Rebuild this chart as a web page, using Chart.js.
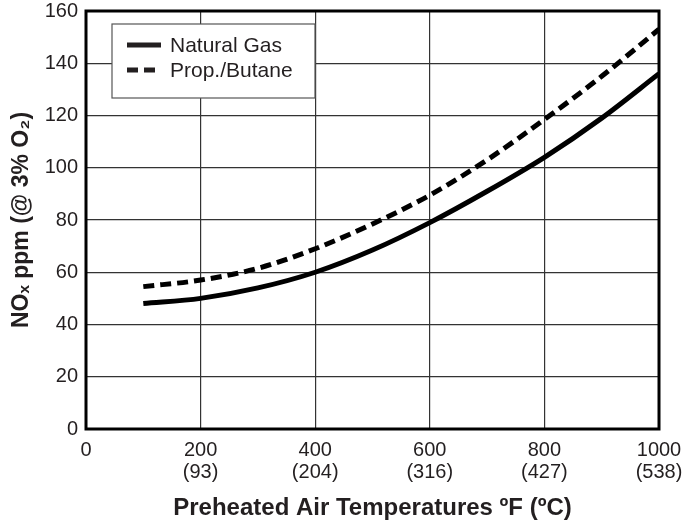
<!DOCTYPE html>
<html>
<head>
<meta charset="utf-8">
<script src="https://cdn.jsdelivr.net/npm/chart.js@4.4.1/dist/chart.umd.min.js"></script>
<style>
  html, body { margin: 0; padding: 0; background: #fff; }
  #wrap { width: 685px; height: 525px; }
</style>
</head>
<body>
<div id="wrap"><canvas id="grafico"></canvas></div>
<script>
// datos
const temperaturas = [100, 200, 300, 400, 500, 600, 700, 800, 900, 1000];
const gasNatural = [48, 50, 54, 60, 68.5, 79, 91, 104, 119, 136];
const propanoButano = [54.5, 57, 61.5, 69, 78.5, 89.5, 103, 118.5, 135, 153];

const ticksF = [0, 200, 400, 600, 800, 1000];
const ticksC = ['', '(93)', '(204)', '(316)', '(427)', '(538)'];
const nombres = ['Natural Gas', 'Prop./Butane'];

const fuente = "'Liberation Sans', Arial, sans-serif";
const tinta = '#231f20';

// borde completo y leyenda dentro del area
const marcoYLeyenda = {
    id: 'marcoYLeyenda',
    afterDatasetsDraw(chart) {
        const { ctx, chartArea: a } = chart;
        ctx.save();
        ctx.strokeStyle = '#000';
        ctx.lineWidth = 3;
        ctx.strokeRect(a.left, a.top, a.right - a.left, a.bottom - a.top);

        // caja de la leyenda
        const bx = 112, by = 24, bw = 203, bh = 74;
        ctx.fillStyle = '#fff';
        ctx.fillRect(bx, by, bw, bh);
        ctx.strokeStyle = '#555';
        ctx.lineWidth = 1.2;
        ctx.strokeRect(bx, by, bw, bh);

        ctx.strokeStyle = tinta;
        ctx.lineWidth = 5;
        ctx.setLineDash([]);
        ctx.beginPath(); ctx.moveTo(127, 45); ctx.lineTo(161, 45); ctx.stroke();
        ctx.setLineDash([11, 6]);
        ctx.beginPath(); ctx.moveTo(127, 70); ctx.lineTo(161, 70); ctx.stroke();
        ctx.setLineDash([]);

        ctx.fillStyle = tinta;
        ctx.font = '21px ' + fuente;
        ctx.textBaseline = 'middle';
        ctx.fillText(nombres[0], 170, 46);
        ctx.fillText(nombres[1], 170, 71);
        ctx.restore();
    }
};

const ctx = document.getElementById('grafico').getContext('2d');
new Chart(ctx, {
    type: 'line',
    data: {
        datasets: [{
            label: nombres[0],
            data: temperaturas.map((t, i) => ({ x: t, y: gasNatural[i] })),
            borderColor: '#000',
            borderWidth: 5,
            pointRadius: 0,
            cubicInterpolationMode: 'monotone',
            fill: false
        }, {
            label: nombres[1],
            data: temperaturas.map((t, i) => ({ x: t, y: propanoButano[i] })),
            borderColor: '#000',
            borderWidth: 5,
            borderDash: [11, 6],
            pointRadius: 0,
            cubicInterpolationMode: 'monotone',
            fill: false
        }]
    },
    options: {
        responsive: true,
        maintainAspectRatio: false,
        animation: false,
        layout: { padding: { top: 11, right: 26, left: 0, bottom: 0 } },
        plugins: {
            legend: { display: false },
            tooltip: { enabled: false }
        },
        scales: {
            x: {
                type: 'linear',
                min: 0,
                max: 1000,
                afterBuildTicks: (s) => { s.ticks = ticksF.map(v => ({ value: v })); },
                afterFit: (s) => { s.height = 96; s.paddingLeft = 0; s.paddingRight = 0; },
                ticks: {
                    color: tinta,
                    font: { family: fuente, size: 20, lineHeight: 1.1 },
                    padding: 10,
                    maxRotation: 0,
                    callback: (v) => {
                        const i = ticksF.indexOf(v);
                        return ticksC[i] ? [String(v), ticksC[i]] : String(v);
                    }
                },
                grid: { color: '#333', lineWidth: 1.2, drawTicks: false },
                border: { display: false },
                title: {
                    display: true,
                    text: 'Preheated Air Temperatures ºF (ºC)',
                    color: tinta,
                    font: { family: fuente, size: 24, weight: 'bold' },
                    padding: { top: 2, bottom: 2 }
                }
            },
            y: {
                min: 0,
                max: 160,
                afterFit: (s) => { s.width = 86; s.paddingTop = 0; s.paddingBottom = 0; },
                ticks: {
                    stepSize: 20,
                    color: tinta,
                    font: { family: fuente, size: 20 },
                    padding: 8
                },
                grid: { color: '#333', lineWidth: 1.2, drawTicks: false },
                border: { display: false },
                title: {
                    display: true,
                    text: 'NOₓ ppm (@ 3% O₂)',
                    color: tinta,
                    font: { family: fuente, size: 23, weight: 'bold' },
                    padding: { top: 8, bottom: 2 }
                }
            }
        }
    },
    plugins: [marcoYLeyenda]
});
</script>
</body>
</html>
